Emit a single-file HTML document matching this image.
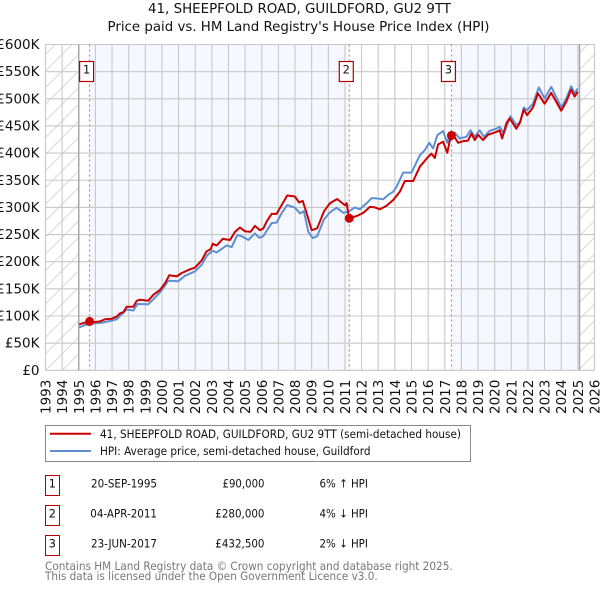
<!DOCTYPE html>
<html>
<head>
<meta charset="utf-8">
<title>41, Sheepfold Road price paid vs HPI</title>
<style>
html,body{margin:0;padding:0;background:#fff;width:600px;height:590px;overflow:hidden}
svg{display:block}
text{font-family:"DejaVu Sans","Liberation Sans",sans-serif;fill:#111}
</style>
</head>
<body>
<svg id="chart" xmlns="http://www.w3.org/2000/svg" width="600" height="590" viewBox="0 0 600 590">
<defs>
<pattern id="hatch" patternUnits="userSpaceOnUse" width="16.64" height="16.64">
<path d="M-2 2 L2 -2 M0 16.64 L16.64 0 M14.64 18.64 L18.64 14.64" stroke="#cfcfcf" stroke-width="0.8" fill="none"/>
</pattern>
</defs>
<text x="299.5" y="13" font-size="13.4" text-anchor="middle" textLength="303" lengthAdjust="spacingAndGlyphs">41, SHEEPFOLD ROAD, GUILDFORD, GU2 9TT</text>
<text x="298.5" y="31" font-size="13.4" text-anchor="middle" textLength="382" lengthAdjust="spacingAndGlyphs">Price paid vs. HM Land Registry's House Price Index (HPI)</text>
<g id="plot"></g>

<g>
<rect x="45.5" y="425.5" width="425" height="36" fill="#fff" stroke="#888" stroke-width="1"/>
<line x1="50" x2="91" y1="433.7" y2="433.7" stroke="#cc0000" stroke-width="2"/>
<text x="100" y="438" font-size="11.5" textLength="361" lengthAdjust="spacingAndGlyphs">41, SHEEPFOLD ROAD, GUILDFORD, GU2 9TT (semi-detached house)</text>
<line x1="50" x2="91" y1="451" y2="451" stroke="#5f8fd3" stroke-width="2"/>
<text x="100" y="455" font-size="11.5" textLength="270.5" lengthAdjust="spacingAndGlyphs">HPI: Average price, semi-detached house, Guildford</text>
</g>

<g font-size="11.5">
<g>
<rect x="45.5" y="475.5" width="14" height="20" fill="#fff" stroke="#b30000" stroke-width="1"/>
<text x="52.3" y="487.3" text-anchor="middle">1</text>
<text x="91" y="487.3" textLength="66" lengthAdjust="spacingAndGlyphs">20-SEP-1995</text>
<text x="222.5" y="487.3" textLength="42" lengthAdjust="spacingAndGlyphs">£90,000</text>
<text x="319.5" y="487.3" textLength="48.4" lengthAdjust="spacingAndGlyphs">6% ↑ HPI</text>
</g>
<g>
<rect x="45.5" y="505.5" width="14" height="20" fill="#fff" stroke="#b30000" stroke-width="1"/>
<text x="52.3" y="517.3" text-anchor="middle">2</text>
<text x="90.3" y="517.3" textLength="66.7" lengthAdjust="spacingAndGlyphs">04-APR-2011</text>
<text x="215.3" y="517.3" textLength="49.2" lengthAdjust="spacingAndGlyphs">£280,000</text>
<text x="319.5" y="517.3" textLength="48.4" lengthAdjust="spacingAndGlyphs">4% ↓ HPI</text>
</g>
<g>
<rect x="45.5" y="535.5" width="14" height="20" fill="#fff" stroke="#b30000" stroke-width="1"/>
<text x="52.3" y="547.3" text-anchor="middle">3</text>
<text x="91" y="547.3" textLength="66" lengthAdjust="spacingAndGlyphs">23-JUN-2017</text>
<text x="215.3" y="547.3" textLength="49.2" lengthAdjust="spacingAndGlyphs">£432,500</text>
<text x="319.5" y="547.3" textLength="48.4" lengthAdjust="spacingAndGlyphs">2% ↓ HPI</text>
</g>
</g>

<text x="45" y="570" font-size="11.5" style="fill:#777" textLength="407.7" lengthAdjust="spacingAndGlyphs">Contains HM Land Registry data © Crown copyright and database right 2025.</text>
<text x="45" y="580" font-size="11.5" style="fill:#777" textLength="332.7" lengthAdjust="spacingAndGlyphs">This data is licensed under the Open Government Licence v3.0.</text>
</svg>
<script>
var yearTicks = [1993,1994,1995,1996,1997,1998,1999,2000,2001,2002,2003,2004,2005,2006,2007,2008,2009,2010,2011,2012,2013,2014,2015,2016,2017,2018,2019,2020,2021,2022,2023,2024,2025,2026];
var valueTicks = [0,50,100,150,200,250,300,350,400,450,500,550,600];
var valueTickLabels = ['£0','£50K','£100K','£150K','£200K','£250K','£300K','£350K','£400K','£450K','£500K','£550K','£600K'];

var propertyYears = [1995.03,1995.27,1995.63,1995.97,1996.28,1996.58,1996.98,1997.28,1997.48,1997.68,1997.88,1998.28,1998.48,1998.68,1999.18,1999.48,1999.88,2000.18,2000.44,2000.88,2001.18,2001.68,2001.98,2002.38,2002.68,2002.93,2003.05,2003.29,2003.65,2004.09,2004.39,2004.69,2004.99,2005.33,2005.59,2005.89,2006.09,2006.29,2006.59,2006.89,2007.19,2007.53,2007.99,2008.25,2008.46,2008.70,2009.0,2009.33,2009.74,2010.1,2010.53,2011.0,2011.1,2011.2,2011.26,2011.7,2012.1,2012.5,2012.8,2013.1,2013.5,2013.9,2014.3,2014.6,2015.1,2015.5,2016.0,2016.2,2016.4,2016.6,2016.9,2017.15,2017.35,2017.5,2017.8,2018.1,2018.4,2018.6,2018.8,2019.0,2019.3,2019.6,2020.1,2020.3,2020.45,2020.7,2020.9,2021.3,2021.5,2021.75,2021.95,2022.3,2022.6,2023.0,2023.4,2024.0,2024.3,2024.6,2024.8,2025.0];
var propertyValues = [84.7,87,90,89,90,94,95,99,105,107,117,117,128,130,128,139,148,160,175,173,179,186,189,202,219,223,233,230,242,240,255,263,256,255,266,258,261,274,288,288,304,322,320,309,312,289,258,261.5,293,307.6,315.5,304,308,289,280,284,290,301,300,296.5,303,313.5,329,348.5,348.5,375,393,399,391,416,421,400.6,430,434,419,422,423,436,424,434,424,434,439,442,427,455,464,445,455,480,470,484,510,491,511,478,494.5,517,504,513];

var hpiYears = [1995.03,1995.37,1995.97,1996.47,1996.98,1997.28,1997.64,1997.88,1998.28,1998.52,1999.18,1999.58,1999.98,2000.38,2000.98,2001.38,2001.98,2002.38,2002.72,2003.05,2003.29,2003.89,2004.19,2004.53,2004.79,2005.19,2005.59,2005.85,2006.09,2006.59,2006.89,2007.19,2007.53,2007.99,2008.3,2008.53,2008.8,2009.06,2009.33,2009.74,2010.1,2010.5,2010.9,2011.2,2011.6,2011.9,2012.3,2012.6,2012.9,2013.3,2013.6,2013.9,2014.1,2014.5,2015.0,2015.5,2015.8,2016.07,2016.3,2016.55,2016.9,2017.15,2017.35,2017.6,2017.9,2018.3,2018.55,2018.8,2019.1,2019.35,2019.7,2020.1,2020.3,2020.55,2020.95,2021.3,2021.55,2021.75,2021.95,2022.3,2022.65,2023.0,2023.4,2024.0,2024.3,2024.6,2024.8,2025.0];
var hpiValues = [79,83.5,86.6,88,91.5,94,105,112,110,122,121.6,134,147,165,164,174,182,194,212,220,217,230,227,249,247,240,252,244,247,271,272,289,304.5,299.5,289,293,255,243.6,247,278,291,299.5,290,292,300,296.5,307.6,317,316.6,315,323,329,338,364,364,396,405.5,419,408.6,433,440.5,419,439,437.4,427,430,442,430,442,430,441,445,448.5,436,468,451.5,458,484,479,491,521,500.6,522,484,500.6,523,510,519];

var saleYears = [1995.65,2011.26,2017.4];
var salePrices = [90,280,432.5];
var saleLabels = ['1','2','3'];

var dataStartYear = 1995;
var dataEndYear = 2025.1;

var NS = 'http://www.w3.org/2000/svg';
var plot = document.getElementById('plot');
var L = 45.5, R = 594.5, T = 44.5, B = 370.3;
function xScale(y){ return L + (y - 1993) * (R - L) / 33; }
function yScale(v){ return B - v * (B - T) / 600; }
function mk(tag, attrs, parent){
  var e = document.createElementNS(NS, tag);
  for (var k in attrs) e.setAttribute(k, attrs[k]);
  (parent || plot).appendChild(e);
  return e;
}
function pts(xs, ys){
  var out = [];
  for (var i = 0; i < xs.length; i++) out.push(xScale(xs[i]).toFixed(2) + ',' + yScale(ys[i]).toFixed(2));
  return out.join(' ');
}

var xStart = xScale(dataStartYear), xEnd = xScale(dataEndYear);
var hatchLeft = mk('rect', {x:L, y:T, width:xStart-L, height:B-T, fill:'url(#hatch)'});


var hatchRight = mk('rect', {x:xEnd, y:T, width:R-xEnd, height:B-T, fill:'url(#hatch)'});



var bandA = mk('rect', {x:xScale(saleYears[0]), y:T, width:xScale(saleYears[1])-xScale(saleYears[0]), height:B-T, fill:'#f5f8ff'});


var bandB = mk('rect', {x:xScale(saleYears[2]), y:T, width:xEnd-xScale(saleYears[2]), height:B-T, fill:'#f5f8ff'});



yearTicks.forEach(function(y){
  var g = mk('line', {x1:xScale(y), x2:xScale(y), y1:T, y2:B, stroke:'#c8c8c8', 'stroke-width':1.1});
  
  
  var t = mk('text', {x:0, y:0, 'font-size':13.5, 'text-anchor':'start', transform:'translate(' + (xScale(y)+5) + ',414) rotate(-90)'});
  
  
  t.textContent = String(y);
});
valueTicks.forEach(function(v, i){
  var g = mk('line', {x1:L, x2:R, y1:yScale(v), y2:yScale(v), stroke:'#c8c8c8', 'stroke-width':1.1});
  
  
  var t = mk('text', {x:39.5, y:yScale(v)+4.5, 'font-size':13.5, 'text-anchor':'end'});
  
  
  t.textContent = valueTickLabels[i];
});

var edgeA = mk('line', {x1:xStart, x2:xStart, y1:T, y2:B, stroke:'#a0a0a0', 'stroke-width':1.3});


var edgeB = mk('line', {x1:xEnd, x2:xEnd, y1:T, y2:B, stroke:'#a0a0a0', 'stroke-width':1.3});



saleYears.forEach(function(y){
  var d = mk('line', {x1:xScale(y), x2:xScale(y), y1:T, y2:B, stroke:'#e0606e', 'stroke-width':1, 'stroke-dasharray':'2 3'});
  
  
});

var hpiLine = mk('polyline', {points:pts(hpiYears, hpiValues), fill:'none', stroke:'#5f8fd3', 'stroke-width':2, 'stroke-linejoin':'round'});


var propertyLine = mk('polyline', {points:pts(propertyYears, propertyValues), fill:'none', stroke:'#cc0000', 'stroke-width':2, 'stroke-linejoin':'round'});



saleYears.forEach(function(y, i){
  var c = mk('circle', {cx:xScale(y), cy:yScale(salePrices[i]), r:4.5, fill:'#cc0000'});
  
  
  var b = mk('rect', {x:xScale(y)-10, y:61.5, width:14, height:20, fill:'#fff', stroke:'#b30000', 'stroke-width':1.2});
  
  
  var t = mk('text', {x:xScale(y)-3, y:73.5, 'font-size':11.5, 'text-anchor':'middle'});
  
  
  t.textContent = saleLabels[i];
});
</script>
</body>
</html>
